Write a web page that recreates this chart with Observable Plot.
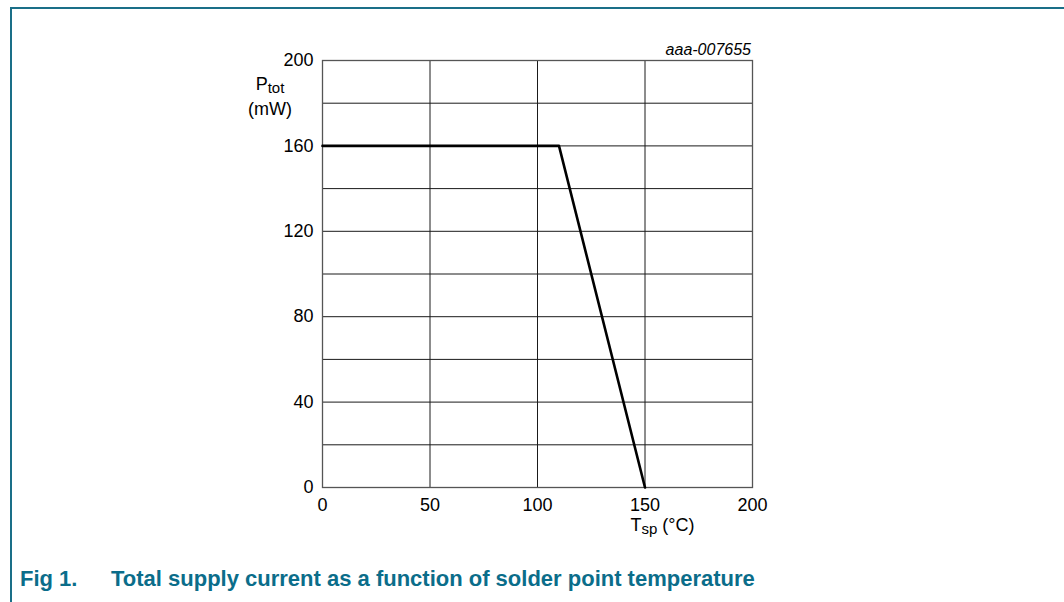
<!DOCTYPE html>
<html>
<head>
<meta charset="utf-8">
<script src="https://cdn.jsdelivr.net/npm/d3@7"></script>
<script src="https://cdn.jsdelivr.net/npm/@observablehq/plot@0.6"></script>
<style>
  html, body { margin: 0; padding: 0; background: #fff; }
  #wrap { position: relative; width: 1064px; height: 602px; overflow: hidden; font-family: "Liberation Sans", Arial, sans-serif; }
  #frame { position: absolute; left: 10px; top: 7px; width: 1100px; height: 700px; border-left: 2px solid #1a6f88; border-top: 2px solid #1a6f88; }
  #chart { position: absolute; left: 0; top: 0; }
  #caption { position: absolute; left: 20px; top: 568px; font-size: 22px; line-height: 22px; font-weight: bold; color: #0b6d8a; white-space: nowrap; }
  #caption .num { display: inline-block; width: 91px; }
</style>
</head>
<body>
<div id="wrap">
  <div id="frame"></div>
  <div id="chart"></div>
  <div id="caption"><span class="num">Fig 1.</span>Total supply current as a function of solder point temperature</div>
</div>
<script>
// Data
const tsp = [0, 110, 150];          // solder point temperature (°C)
const ptot = [160, 160, 0];         // total power (mW)
const xTicks = [0, 50, 100, 150, 200];
const yTicks = [0, 40, 80, 120, 160, 200];
const yGrid = [0, 20, 40, 60, 80, 100, 120, 140, 160, 180, 200];
const docId = "aaa-007655";

const W = 1064, H = 560;
const mL = 322, mR = 312, mT = 60, mB = 73;
const FS = 18;

const points = tsp.map((t, i) => ({t, p: ptot[i]}));

const plot = Plot.plot({
  width: W,
  height: H,
  marginLeft: mL,
  marginRight: mR,
  marginTop: mT,
  marginBottom: mB,
  x: {domain: [0, 200]},
  y: {domain: [0, 200]},
  style: {fontFamily: "'Liberation Sans', Arial, sans-serif", fontSize: FS + "px", color: "#000", background: "transparent", overflow: "visible"},
  marks: [
    Plot.ruleY(yGrid, {stroke: "#1a1a1a", strokeWidth: 1}),
    Plot.ruleX(xTicks, {stroke: "#1a1a1a", strokeWidth: 1}),
    Plot.frame({stroke: "#555", strokeWidth: 1.3}),
    Plot.line(points, {x: "t", y: "p", stroke: "#000", strokeWidth: 2.6}),
    Plot.axisY(yTicks, {tickSize: 0, tickPadding: 9, label: null, fontSize: FS}),
    Plot.axisX(xTicks, {tickSize: 0, tickPadding: 11, label: null, fontSize: FS})
  ]
});
document.getElementById("chart").appendChild(plot);

const svg = d3.select(plot);
const xs = plot.scale("x"), ys = plot.scale("y");

// Document id, top right above frame
svg.append("text")
  .attr("x", xs.apply(200) - 1)
  .attr("y", ys.apply(200) - 5)
  .attr("text-anchor", "end")
  .attr("font-style", "italic")
  .attr("font-size", 16)
  .attr("fill", "#000")
  .text(docId);

// Y-axis label: P_tot (mW)
const yl = svg.append("text")
  .attr("x", 270)
  .attr("y", ys.apply(200) + 30)
  .attr("text-anchor", "middle")
  .attr("font-size", FS)
  .attr("fill", "#000");
yl.append("tspan").text("P");
yl.append("tspan").attr("font-size", 15).attr("dy", 3).text("tot");
svg.append("text")
  .attr("x", 270)
  .attr("y", ys.apply(200) + 55)
  .attr("text-anchor", "middle")
  .attr("font-size", FS)
  .attr("fill", "#000")
  .text("(mW)");

// X-axis label: T_sp (°C)
const xl = svg.append("text")
  .attr("x", xs.apply(150) - 14)
  .attr("y", ys.apply(0) + 44)
  .attr("text-anchor", "start")
  .attr("font-size", FS)
  .attr("fill", "#000");
xl.append("tspan").text("T");
xl.append("tspan").attr("font-size", 15).attr("dy", 3).text("sp");
xl.append("tspan").attr("dy", -3).text(" (°C)");
</script>
</body>
</html>
